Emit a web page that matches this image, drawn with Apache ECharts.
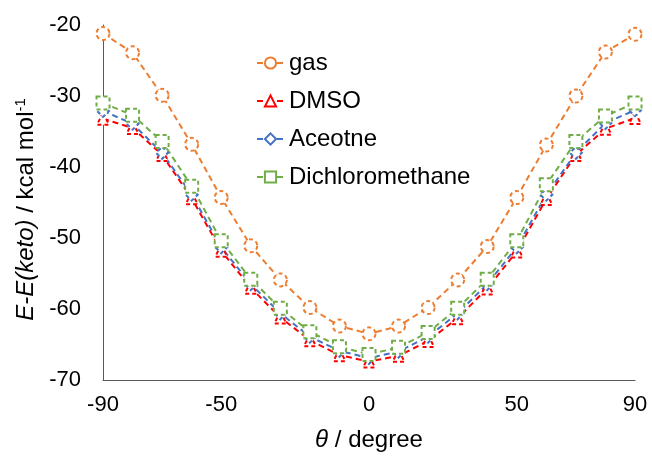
<!DOCTYPE html>
<html>
<head>
<meta charset="utf-8">
<script src="https://cdn.jsdelivr.net/npm/echarts@6/dist/echarts.min.js"></script>
<style>
  html, body { margin: 0; padding: 0; background: #fff; }
  #chart { width: 652px; height: 459px; }
</style>
</head>
<body>
<div id="chart"></div>
<script>
// Dihedral angle (degrees) and relative energies (kcal/mol)
const angles = [-90, -80, -70, -60, -50, -40, -30, -20, -10, 0, 10, 20, 30, 40, 50, 60, 70, 80, 90];
const gas = [-21.2, -23.9, -29.9, -36.8, -44.3, -51.1, -55.9, -59.8, -62.4, -63.5, -62.4, -59.8, -55.9, -51.2, -44.3, -36.9, -30.0, -23.8, -21.3];
const dmso = [-33.2, -34.5, -38.3, -44.4, -51.8, -57.0, -61.2, -64.4, -66.5, -67.4, -66.6, -64.5, -61.3, -57.1, -51.9, -44.5, -38.3, -34.6, -33.1];
const acetone = [-32.1, -33.9, -38.0, -43.9, -51.3, -56.5, -60.6, -63.9, -65.9, -66.9, -66.0, -63.9, -60.6, -56.5, -51.3, -43.9, -38.0, -33.8, -32.0];
const dichloromethane = [-31.0, -32.7, -36.4, -42.7, -50.4, -55.8, -59.9, -63.2, -65.3, -66.4, -65.4, -63.3, -59.9, -55.8, -50.4, -42.5, -36.4, -32.8, -31.0];
const xTickValues = [-90, -50, 0, 50, 90];
const seriesNames = ['gas', 'DMSO', 'Aceotne', 'Dichloromethane'];

const font = 'Liberation Sans, Arial, sans-serif';
const axisColor = '#595959';

function pairs(values) {
  return angles.map((a, i) => [a, values[i]]);
}

function makeSeries(name, values, color, symbol, size) {
  return {
    name: name,
    type: 'line',
    data: pairs(values),
    symbol: symbol,
    symbolSize: size,
    showAllSymbol: true,
    lineStyle: { color: color, width: 2, type: [6, 4] },
    itemStyle: { color: color, borderColor: color, borderWidth: 2, borderType: [4, 3] },
    emphasis: { disabled: true },
    z: 2
  };
}

const chart = echarts.init(document.getElementById('chart'), null, { renderer: 'canvas' });
chart.setOption({
  animation: false,
  backgroundColor: '#ffffff',
  grid: { left: 103, right: 17, top: 25, bottom: 79, containLabel: false },
  legend: {
    orient: 'vertical',
    left: 251,
    top: 46,
    itemWidth: 27,
    itemHeight: 14,
    itemGap: 14,
    data: seriesNames,
    textStyle: { fontFamily: font, fontSize: 24, color: '#000', lineHeight: 24 }
  },
  xAxis: {
    type: 'value',
    min: -90,
    max: 90,
    name: '{i|θ} / degree',
    nameLocation: 'middle',
    nameGap: 48,
    nameTextStyle: {
      fontFamily: font, fontSize: 24, color: '#000',
      rich: { i: { fontFamily: font, fontSize: 24, fontStyle: 'italic', color: '#000' } }
    },
    axisLine: { show: true, onZero: false, lineStyle: { color: axisColor, width: 1 } },
    axisTick: { show: false },
    splitLine: { show: false },
    axisLabel: {
      customValues: xTickValues,
      fontFamily: font, fontSize: 22, color: '#000', margin: 14
    }
  },
  yAxis: {
    type: 'value',
    min: -70,
    max: -20,
    interval: 10,
    name: '{i|E-E(keto)} / kcal mol{s|-1}',
    nameLocation: 'middle',
    nameGap: 52,
    nameRotate: 90,
    nameTextStyle: {
      fontFamily: font, fontSize: 24, color: '#000', padding: [0, 14, 0, 0],
      rich: {
        i: { fontFamily: font, fontSize: 24, fontStyle: 'italic', color: '#000' },
        s: { fontFamily: font, fontSize: 15, color: '#000', verticalAlign: 'top', padding: [0, 0, 10, 0] }
      }
    },
    axisLine: { show: true, onZero: false, lineStyle: { color: axisColor, width: 1 } },
    axisTick: { show: false },
    splitLine: { show: false },
    axisLabel: { fontFamily: font, fontSize: 22, color: '#000', margin: 22 }
  },
  series: [
    makeSeries('gas', gas, '#ED7D31', 'emptyCircle', 13),
    makeSeries('DMSO', dmso, '#FF0000', 'emptyTriangle', 12),
    makeSeries('Aceotne', acetone, '#4472C4', 'emptyDiamond', 12),
    makeSeries('Dichloromethane', dichloromethane, '#70AD47', 'emptyRect', 13)
  ]
});
</script>
</body>
</html>
